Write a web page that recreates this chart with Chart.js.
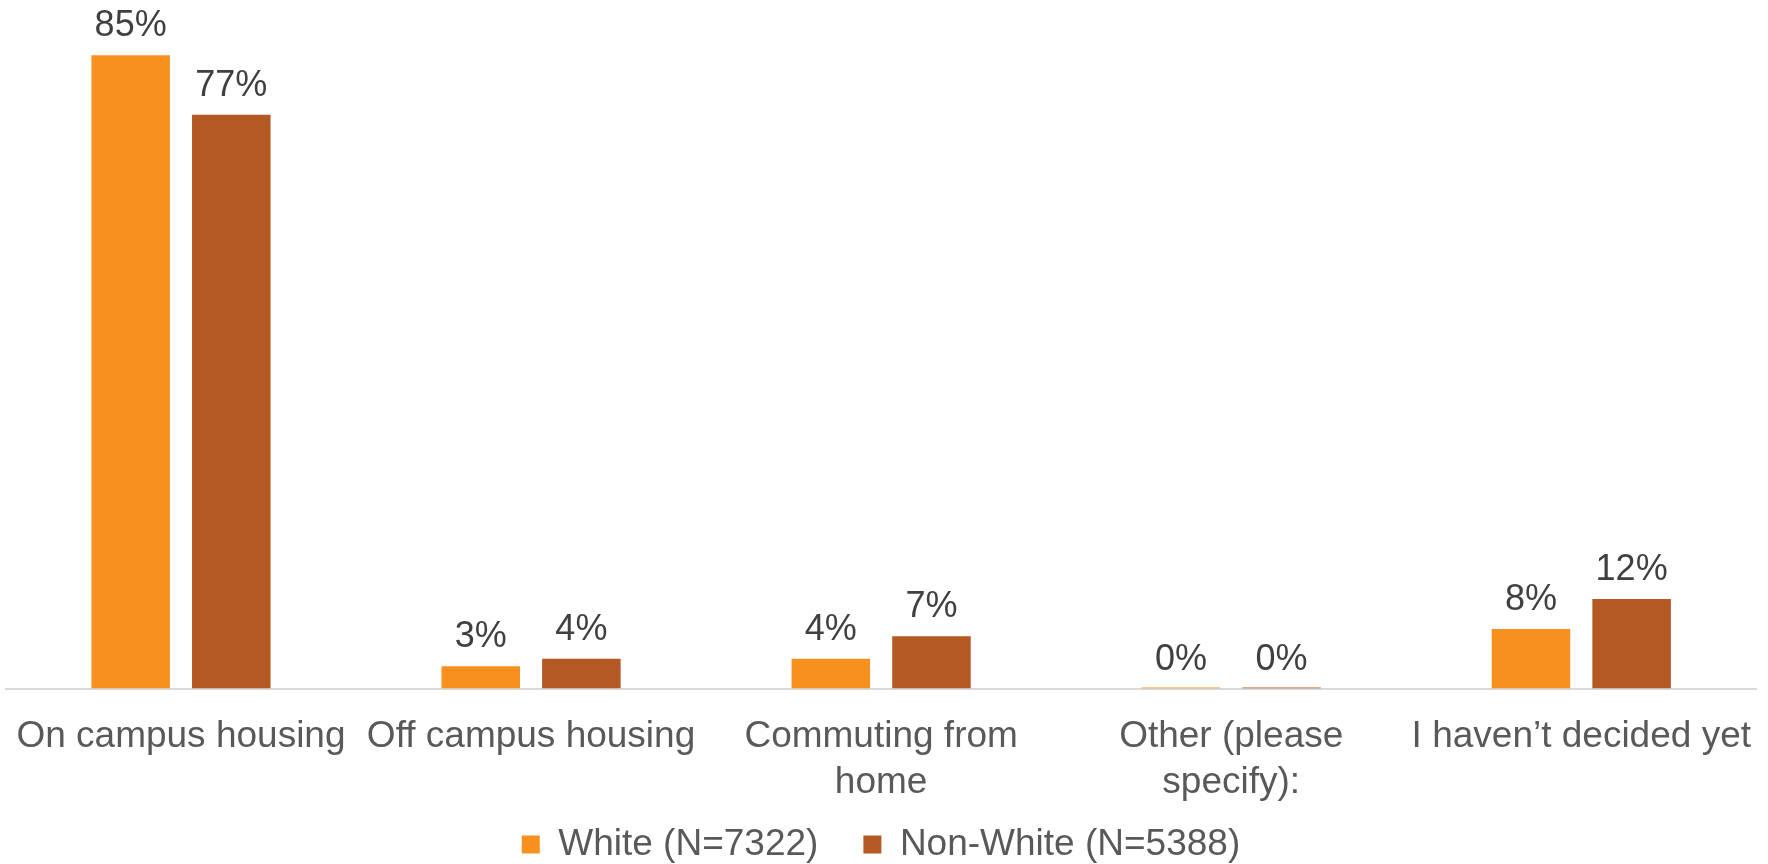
<!DOCTYPE html>
<html>
<head>
<meta charset="utf-8">
<title>Housing plans by race</title>
<script src="https://cdn.jsdelivr.net/npm/chart.js@4/dist/chart.umd.min.js"></script>
<style>
  html, body { margin: 0; padding: 0; background: #ffffff; overflow: hidden; }
  /* taller than the window: the legend's spare bottom space falls off-screen */
  #wrap { width: 1768px; height: 915px; position: relative; }
</style>
</head>
<body>
<div id="wrap"><canvas id="housingBar"></canvas></div>
<script>
/* ----------------------------------------------------------
   DATA
---------------------------------------------------------- */
const categories = [
  "On campus housing",
  "Off campus housing",
  ["Commuting from", "home"],
  ["Other (please", "specify):"],
  "I haven\u2019t decided yet"
];
const seriesNames = ["White (N=7322)", "Non-White (N=5388)"];
const whiteValues = [85, 3, 4, 0, 8];
const nonWhiteValues = [77, 4, 7, 0, 12];

const FONT = "'Liberation Sans', Arial, Helvetica, sans-serif";

/* ----------------------------------------------------------
   VALUE LABELS ABOVE BARS (no datalabels plugin offline)
---------------------------------------------------------- */
const valueLabels = {
  id: "valueLabels",
  afterDatasetsDraw(chart) {
    const ctx = chart.ctx;
    ctx.save();
    ctx.font = "36px " + FONT;
    ctx.fillStyle = "#404040";
    ctx.textAlign = "center";
    ctx.textBaseline = "alphabetic";
    chart.data.datasets.forEach((ds, i) => {
      const meta = chart.getDatasetMeta(i);
      meta.data.forEach((bar, j) => {
        const top = chart.scales.y.getPixelForValue(ds.data[j]);
        ctx.fillText(ds.data[j] + "%", bar.x, top - 19);
      });
    });
    ctx.restore();
  }
};

/* ----------------------------------------------------------
   LEGEND NUDGE
   legend padding is used both between items and above them;
   keep the wide item spacing but pull the row up closer to the axis
---------------------------------------------------------- */
const legendNudge = {
  id: "legendNudge",
  afterLayout(chart) {
    if (!chart.legend) return;
    chart.legend.top -= 42;
    chart.legend.bottom -= 42;
  }
};

/* ----------------------------------------------------------
   RENDER
---------------------------------------------------------- */
new Chart(document.getElementById("housingBar"), {
  type: "bar",
  data: {
    labels: categories,
    datasets: [
      {
        label: seriesNames[0],
        data: whiteValues,
        backgroundColor: "#F7901E",
        minBarLength: 1
      },
      {
        label: seriesNames[1],
        data: nonWhiteValues,
        backgroundColor: "#B45824",
        minBarLength: 1
      }
    ]
  },
  options: {
    responsive: true,
    maintainAspectRatio: false,
    animation: false,
    categoryPercentage: 0.575,
    barPercentage: 0.78,
    layout: { padding: { left: 0, right: 6, top: 0, bottom: 0 } },
    scales: {
      x: {
        grid: { display: false },
        border: { color: "#d9d9d9", width: 2 },
        ticks: {
          color: "#595959",
          font: { family: FONT, size: 37, lineHeight: 1.25 },
          padding: 17,
          maxRotation: 0,
          autoSkip: false
        }
      },
      y: {
        display: false,
        min: 0,
        max: 92.4
      }
    },
    plugins: {
      legend: {
        position: "bottom",
        labels: {
          color: "#595959",
          font: { family: FONT, size: 37 },
          boxWidth: 18,
          boxHeight: 18,
          padding: 45
        }
      },
      tooltip: { enabled: false }
    }
  },
  plugins: [valueLabels, legendNudge]
});
</script>
</body>
</html>
